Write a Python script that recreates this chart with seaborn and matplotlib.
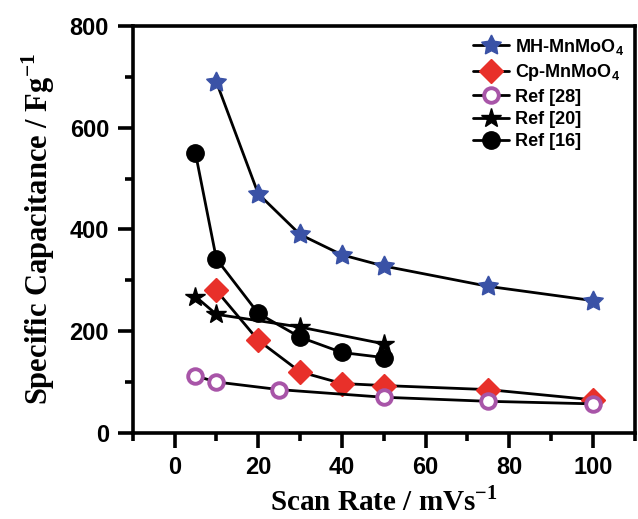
import matplotlib
matplotlib.use("Agg")
import matplotlib.pyplot as plt
import seaborn as sns

# data
mh_x = [10, 20, 30, 40, 50, 75, 100]
mh_y = [690, 470, 390, 350, 328, 288, 260]
cp_x = [10, 20, 30, 40, 50, 75, 100]
cp_y = [280, 182, 120, 97, 93, 85, 65]
r28_x = [5, 10, 25, 50, 75, 100]
r28_y = [112, 100, 85, 70, 62, 57]
r20_x = [5, 10, 30, 50]
r20_y = [268, 233, 208, 175]
r16_x = [5, 10, 20, 30, 40, 50]
r16_y = [550, 342, 235, 188, 158, 148]

sns.set_style("ticks")
plt.rcParams['font.family'] = ['Liberation Sans', 'DejaVu Sans']
for k in ['text.color', 'axes.labelcolor', 'xtick.color', 'ytick.color', 'axes.edgecolor']:
    plt.rcParams[k] = 'black'

fig = plt.figure(figsize=(6.38, 5.19), dpi=100)
ax = fig.add_axes([0.208, 0.166, 0.787, 0.784])

series = [
    (mh_x, mh_y, 'MH-MnMoO$_\\mathregular{4}$', (5, 1, 0), '#3a52a6', '#3a52a6', 15),
    (cp_x, cp_y, 'Cp-MnMoO$_\\mathregular{4}$', 'D', '#e8302a', '#e8302a', 12),
    (r28_x, r28_y, 'Ref [28]', 'o', 'white', '#a855a8', 10.5),
    (r20_x, r20_y, 'Ref [20]', '*', 'black', 'black', 15),
    (r16_x, r16_y, 'Ref [16]', 'o', 'black', 'black', 12.5),
]
for x, y, lab, m, fc, ec, ms in series:
    sns.lineplot(x=x, y=y, ax=ax, color='black', lw=2, marker=m, markersize=ms,
                 markerfacecolor=fc, markeredgecolor=ec,
                 markeredgewidth=2.8 if fc == 'white' else 1, label=lab)

ax.set_xlim(-10, 110)
ax.set_ylim(0, 800)
ax.set_xticks([0, 20, 40, 60, 80, 100])
ax.set_xticks(range(-10, 111, 20), minor=True)
ax.set_yticks([0, 200, 400, 600, 800])
ax.set_yticks([100, 300, 500, 700], minor=True)
for s in ax.spines.values():
    s.set_linewidth(2.6)
    s.set_visible(True)
ax.tick_params(which='major', direction='out', length=11, width=2.6, labelsize=17, pad=6)
ax.tick_params(which='minor', direction='out', length=6, width=2.6)
for t in ax.get_xticklabels() + ax.get_yticklabels():
    t.set_fontweight('bold')

ax.set_xlabel('Scan Rate / mVs$^{\\mathregular{-1}}$', fontsize=21, fontweight='bold',
              family='Liberation Serif', labelpad=5)
ax.set_ylabel('Specific Capacitance / Fg$^{\\mathregular{-1}}$', fontsize=22, fontweight='bold',
              family='Liberation Serif', labelpad=9)

leg = ax.legend(loc='upper right', frameon=False, handlelength=2.0,
                handletextpad=0.3, labelspacing=0.3, borderaxespad=0.2,
                prop={'weight': 'bold', 'size': 13})

fig.savefig('out.png', dpi=100)
